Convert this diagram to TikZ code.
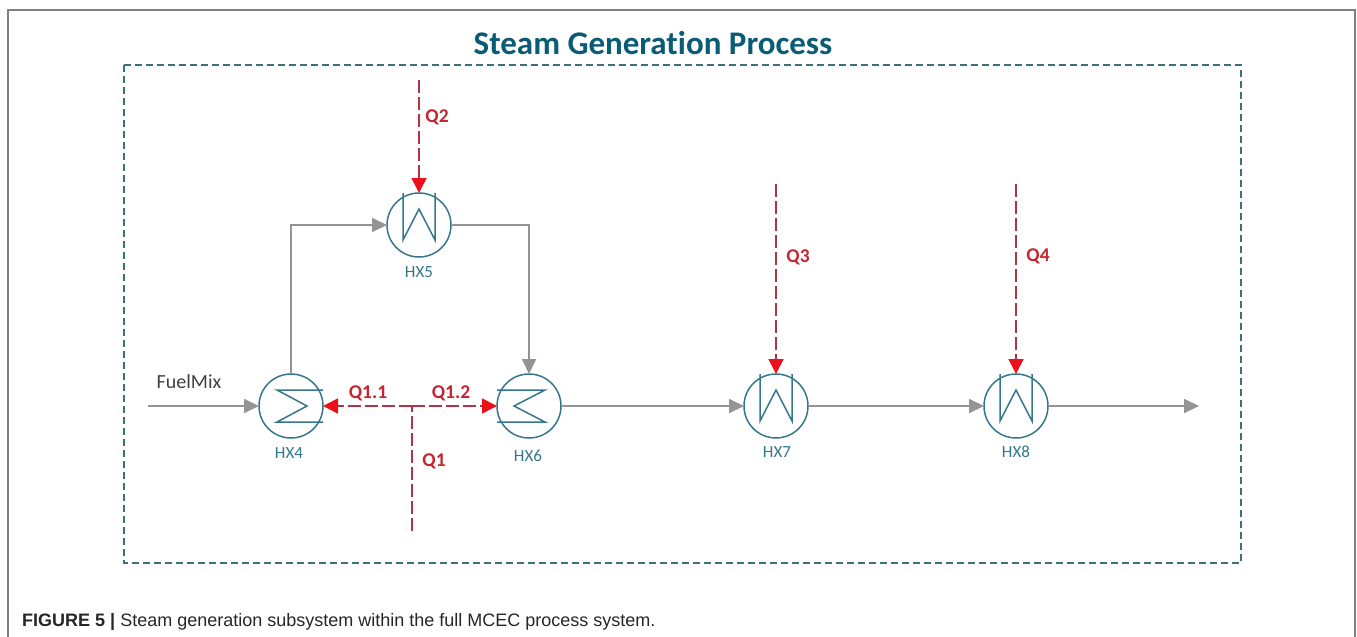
\documentclass[tikz,border=0pt]{standalone}
\usepackage{fontspec}
\setmainfont{Liberation Sans}
\newfontfamily\diagfont[Ligatures=NoCommon]{Carlito}
\usetikzlibrary{arrows.meta}
\definecolor{hxblue}{RGB}{52,118,140}
\definecolor{titleblue}{RGB}{10,92,118}
\definecolor{boxblue}{RGB}{62,112,124}
\definecolor{flowgray}{RGB}{148,148,148}
\definecolor{heatdark}{RGB}{176,52,66}
\definecolor{heatred}{RGB}{236,16,26}
\definecolor{heattext}{RGB}{196,38,48}
\newcommand{\hxvert}[1]{\draw[hxline,shift={(#1)}] (-16,-32) -- (-16,15) -- (0,-16) -- (16,15) -- (16,-32);}
\newcommand{\hxright}[1]{\draw[hxline,shift={(#1)}] (32,-16) -- (-14,-16) -- (16,0) -- (-14,16) -- (32,16);}
\newcommand{\hxleft}[1]{\draw[hxline,shift={(#1)}] (-32,-16) -- (16,-16) -- (-15,0) -- (16,16) -- (-32,16);}
\tikzset{
  hx/.style={circle,draw=hxblue,line width=1.5pt,minimum size=64pt,inner sep=0pt,outer sep=0pt},
  hxline/.style={draw=hxblue,line width=1.5pt},
  hxlabel/.style={text=hxblue,font=\diagfont\fontsize{17}{19}\selectfont,inner sep=0pt},
  heatlabel/.style={text=heattext,font=\diagfont\bfseries\fontsize{19.5}{22}\selectfont,inner sep=0pt},
  flow/.style={draw=flowgray,line width=1.8pt,-{Triangle[length=15pt,width=14pt]}},
  heat/.style={draw=heatdark,line width=1.6pt,dash pattern=on 13pt off 4pt,-{Triangle[length=15pt,width=15pt,color=heatred]}},
  heatplain/.style={draw=heatdark,line width=1.6pt,dash pattern=on 13pt off 4pt}
}

\begin{document}
\begin{tikzpicture}[x=1pt,y=-1pt]
  \useasboundingbox (0,0) rectangle (1357,637);

  \draw[gray,line width=1.6pt] (8,637) -- (8,10) -- (1355,10) -- (1355,637);
  \draw[boxblue,line width=1.6pt,dash pattern=on 7pt off 4pt] (124,65) rectangle (1241,563);
  \node[text=titleblue,font=\diagfont\bfseries\fontsize{33}{37}\selectfont,inner sep=0pt] (title) at (653,43) {Steam Generation Process};

  % exchangers
  \foreach \name/\px/\py in {hxfour/291/406,hxfive/419/225,hxsix/529/406,hxseven/776/406,hxeight/1016/406}
    \node[hx] (\name) at (\px,\py) {};
  \hxright{hxfour}
  \hxvert{hxfive}
  \hxleft{hxsix}
  \hxvert{hxseven}
  \hxvert{hxeight}

  \node[hxlabel] (lbfour)  at (289,453) {HX4};
  \node[hxlabel] (lbfive)  at (419,272) {HX5};
  \node[hxlabel] (lbsix)   at (528,456) {HX6};
  \node[hxlabel] (lbseven) at (777,452) {HX7};
  \node[hxlabel] (lbeight) at (1016,452) {HX8};

  % main stream
  \coordinate (fuelin) at (148,406);
  \coordinate (out) at (1199,406);
  \node[text=black!75,font=\diagfont\fontsize{20}{22}\selectfont,inner sep=0pt] (fuel) at (189,382) {FuelMix};
  \draw[flow] (fuelin) -- (hxfour.west);
  \draw[flow] (hxfour.north) |- (hxfive.west);
  \draw[flow] (hxfive.east) -| (hxsix.north);
  \draw[flow] (hxsix.east) -- (hxseven.west);
  \draw[flow] (hxseven.east) -- (hxeight.west);
  \draw[flow] (hxeight.east) -- (out);

  % heat duties
  \coordinate (qtwo) at (419,80);
  \coordinate (qthree) at (776,184);
  \coordinate (qfour) at (1016,184);
  \coordinate (qone) at (412,531);
  \coordinate (qsplit) at (412,406);
  \draw[heat] (qtwo) -- (hxfive.north);
  \draw[heat] (qthree) -- (hxseven.north);
  \draw[heat] (qfour) -- (hxeight.north);
  \draw[heatplain] (qone) -- (qsplit);
  \draw[heat] (qsplit) -- (hxfour.east);
  \draw[heat] (qsplit) -- (hxsix.west);

  \node[heatlabel] (ltwo)   at (437,117) {Q2};
  \node[heatlabel] (lthree) at (798,257) {Q3};
  \node[heatlabel] (lfour)  at (1038,256) {Q4};
  \node[heatlabel] (lone)   at (434,461) {Q1};
  \node[heatlabel] (loneone) at (368,393) {Q1.1};
  \node[heatlabel] (lonetwo) at (451,393) {Q1.2};

  \node[anchor=west,inner sep=0pt,text=black!85,font=\fontsize{18}{20}\selectfont] (caption) at (22,622)
    {\textbf{FIGURE 5 |} Steam generation subsystem within the full MCEC process system.};
\end{tikzpicture}
\end{document}
